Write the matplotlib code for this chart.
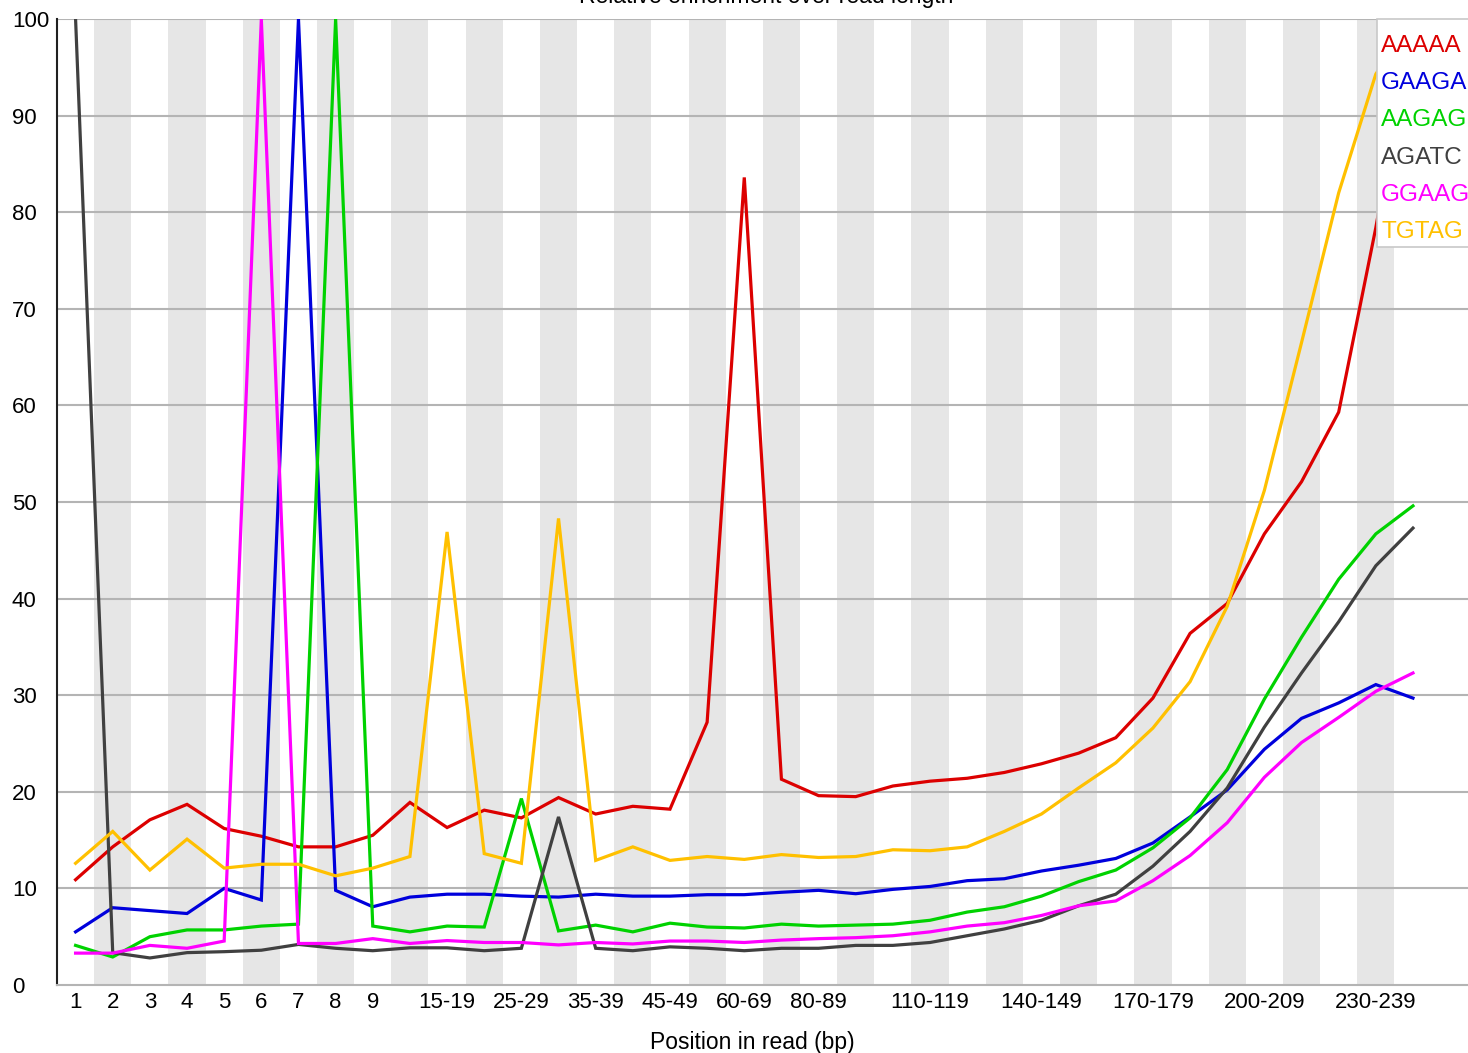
import matplotlib
matplotlib.use("Agg")
import matplotlib.pyplot as plt
from matplotlib.patches import Rectangle

plt.rcParams["font.family"] = ["Liberation Sans", "DejaVu Sans"]

# read position bins (FastQC style grouping)
positions = ["1", "2", "3", "4", "5", "6", "7", "8", "9",
             "10-14", "15-19", "20-24", "25-29", "30-34", "35-39", "40-44", "45-49",
             "50-59", "60-69", "70-79", "80-89", "90-99", "100-109", "110-119",
             "120-129", "130-139", "140-149", "150-159", "160-169", "170-179",
             "180-189", "190-199", "200-209", "210-219", "220-229", "230-239", "240-249"]
shown_labels = {"1", "2", "3", "4", "5", "6", "7", "8", "9", "15-19", "25-29", "35-39",
                "45-49", "60-69", "80-89", "110-119", "140-149", "170-179", "200-209", "230-239"}

kmers = ["AAAAA", "GAAGA", "AAGAG", "AGATC", "GGAAG", "TGTAG"]
colors = ["#dc0000", "#0000dc", "#00d200", "#404040", "#ff00ff", "#ffc000"]

aaaaa = [10.9, 14.3, 17.1, 18.7, 16.2, 15.4, 14.3, 14.3, 15.5, 18.9, 16.3, 18.1, 17.3, 19.4,
         17.7, 18.5, 18.2, 27.2, 83.6, 21.3, 19.6, 19.5, 20.6, 21.1, 21.4, 22.0, 22.9, 24.0,
         25.6, 29.7, 36.4, 39.5, 46.7, 52.1, 59.3, 78.4, 100.0]
gaaga = [5.5, 8.0, 7.7, 7.4, 10.0, 8.8, 100.0, 9.8, 8.1, 9.1, 9.4, 9.4, 9.2, 9.1,
         9.4, 9.2, 9.2, 9.35, 9.35, 9.6, 9.8, 9.45, 9.9, 10.2, 10.8, 11.0, 11.8, 12.4,
         13.1, 14.7, 17.4, 20.2, 24.4, 27.6, 29.2, 31.1, 29.7]
aagag = [4.1, 2.9, 5.0, 5.7, 5.7, 6.1, 6.3, 100.0, 6.1, 5.5, 6.1, 6.0, 19.3, 5.6,
         6.2, 5.5, 6.4, 6.0, 5.9, 6.3, 6.1, 6.2, 6.3, 6.7, 7.55, 8.1, 9.2, 10.7,
         11.9, 14.2, 17.3, 22.3, 29.6, 36.0, 42.0, 46.7, 49.6]
agatc = [100.0, 3.35, 2.8, 3.35, 3.45, 3.6, 4.2, 3.8, 3.55, 3.85, 3.85, 3.55, 3.8, 17.4,
         3.8, 3.55, 3.95, 3.8, 3.55, 3.8, 3.8, 4.1, 4.1, 4.4, 5.1, 5.8, 6.7, 8.2,
         9.4, 12.3, 15.9, 20.4, 26.7, 32.3, 37.6, 43.4, 47.3]
ggaag = [3.3, 3.3, 4.1, 3.8, 4.55, 100.0, 4.3, 4.3, 4.8, 4.3, 4.6, 4.4, 4.4, 4.15,
         4.4, 4.25, 4.55, 4.55, 4.4, 4.65, 4.8, 4.9, 5.1, 5.5, 6.1, 6.45, 7.2, 8.2,
         8.7, 10.8, 13.4, 16.8, 21.5, 25.1, 27.7, 30.4, 32.3]
tgtag = [12.6, 15.9, 11.9, 15.1, 12.1, 12.5, 12.5, 11.3, 12.1, 13.3, 46.9, 13.6, 12.6, 48.3,
         12.9, 14.3, 12.9, 13.3, 13.0, 13.5, 13.2, 13.3, 14.0, 13.9, 14.3, 15.9, 17.7, 20.4,
         23.0, 26.6, 31.4, 39.2, 51.2, 66.5, 82.0, 94.3, 100.0]
series = [aaaaa, gaaga, aagag, agatc, ggaag, tgtag]

W, H = 1468, 1053
fig = plt.figure(figsize=(W / 100, H / 100), dpi=100)
ax = fig.add_axes([57 / W, 68 / H, 1 - 57 / W, 966 / H])

n = len(positions)
x = list(range(n))

# alternating background bands
for i in range(1, n, 2):
    ax.axvspan(i - 0.5, i + 0.5, color="#e6e6e6", lw=0, zorder=0)

for v in range(10, 101, 10):
    ax.axhline(v, color="#b4b4b4", lw=1.5, zorder=1)

for vals, c in zip(series, colors):
    ax.plot(x, vals, color=c, lw=2.3, zorder=3, solid_joinstyle="miter")

ax.set_xlim(-0.5, (W - 57) / 37.15 - 0.5)
ax.set_ylim(0, 100)

ax.set_xticks(x)
ax.set_xticklabels([p if p in shown_labels else "" for p in positions], fontsize=16)
ax.set_yticks(range(0, 101, 10))
ax.set_yticklabels([str(v) for v in range(0, 101, 10)], fontsize=16)
for lab in ax.get_yticklabels():
    lab.set_horizontalalignment("left")
ax.tick_params(axis="y", length=0, pad=32.5)
ax.tick_params(axis="x", length=0, pad=5)

for s in ("top", "right"):
    ax.spines[s].set_visible(False)
ax.spines["left"].set_color("#202020")
ax.spines["left"].set_linewidth(1.5)
ax.spines["bottom"].set_color("#b4b4b4")
ax.spines["bottom"].set_linewidth(1.5)

ax.set_xlabel("Position in read (bp)", fontsize=16.5)
ax.xaxis.set_label_coords((752 - 57) / (W - 57), -(1042 - 985) / 966)
ax.xaxis.label.set_verticalalignment("center")

# title sits right at the top edge
fig.text(766 / W, 1 + 4 / H, "Relative enrichment over read length",
         fontsize=16.5, ha="center", va="center")

# key box in the top right corner
fig.patches.append(Rectangle((1377 / W, 1 - 247 / H), 0.2, 228 / H,
                             transform=fig.transFigure, facecolor="white",
                             edgecolor="#c8c8c8", lw=1.2, zorder=5))
for k, (name, c) in enumerate(zip(kmers, colors)):
    fig.text(1381 / W, 1 - (46 + 37.2 * k) / H, name, color=c, fontsize=17.5,
             ha="left", va="center", zorder=6)

fig.savefig("out.png", dpi=100)
